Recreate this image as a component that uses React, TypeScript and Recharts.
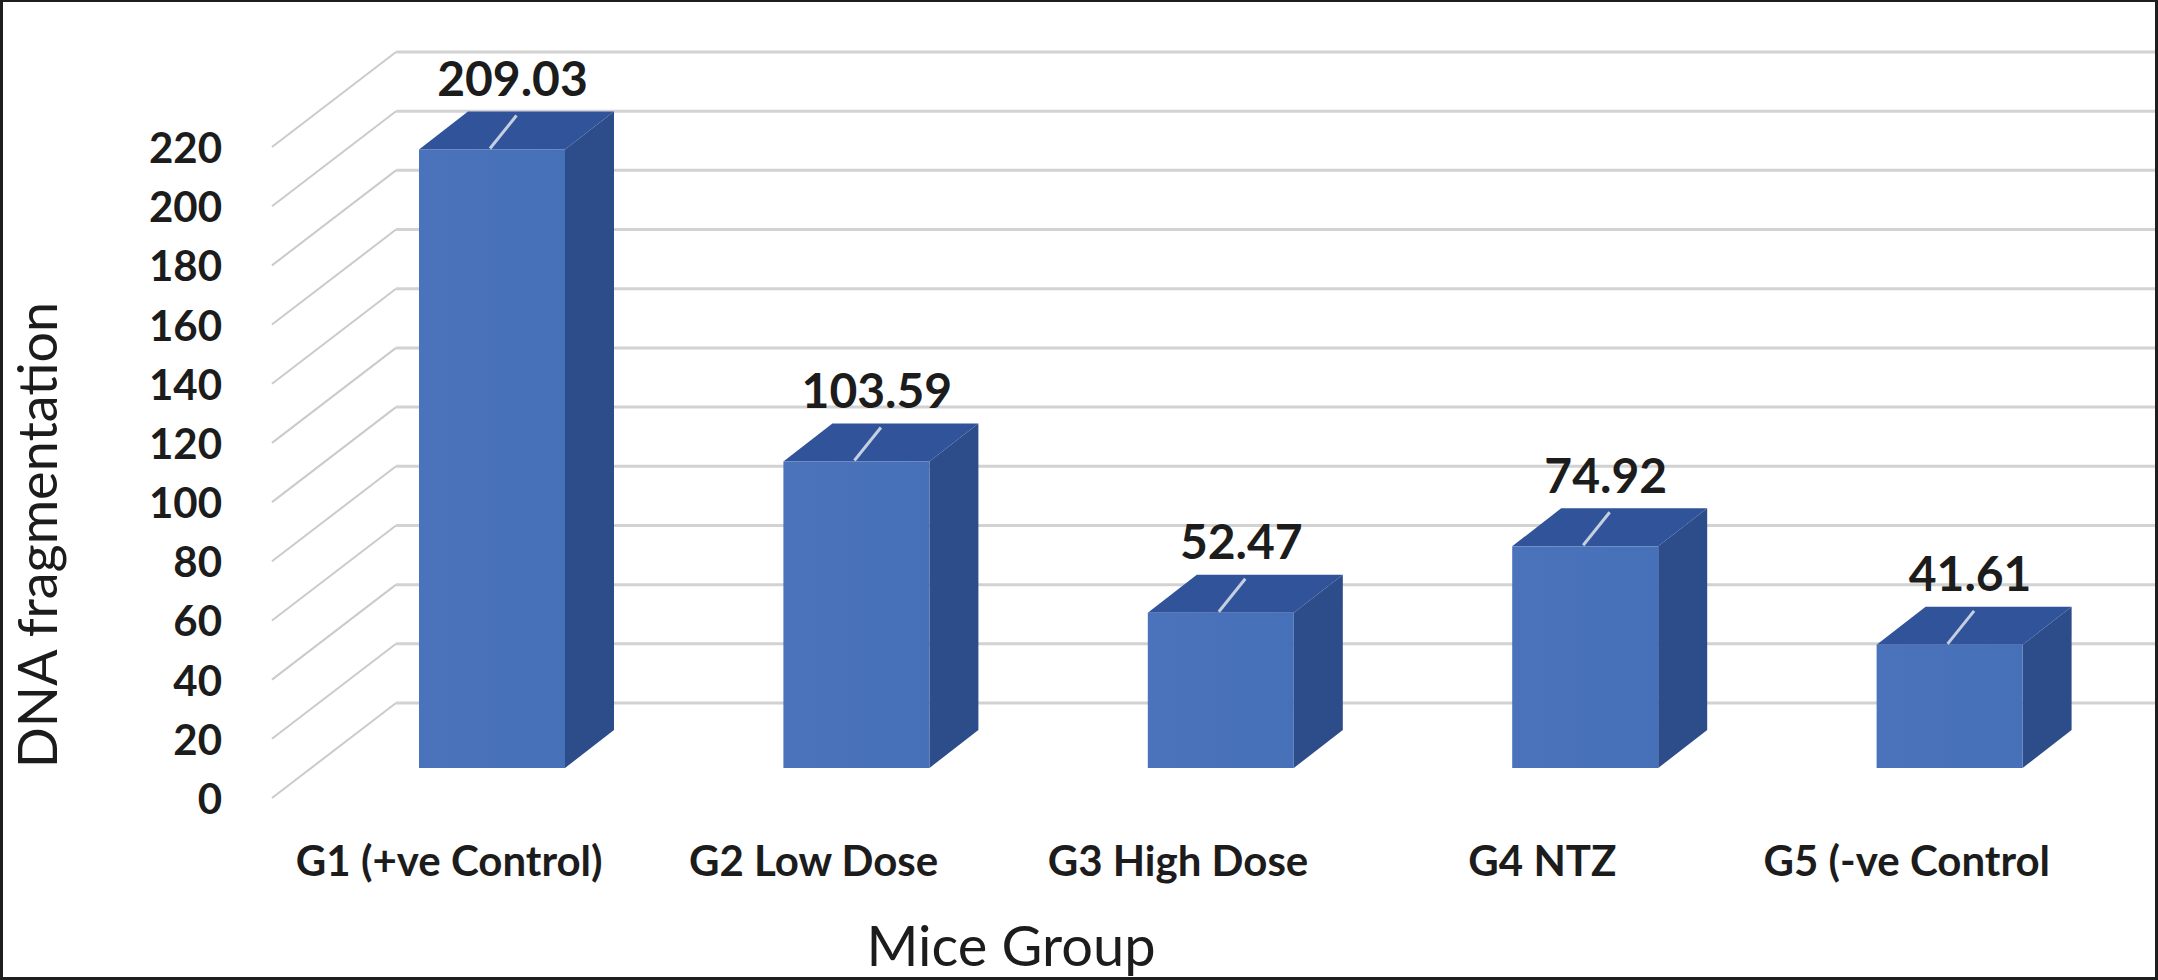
import React from 'react';
import { BarChart, Bar, XAxis, YAxis, CartesianGrid, LabelList } from 'recharts';

const categories = ['G1 (+ve Control)', 'G2 Low Dose', 'G3 High Dose', 'G4 NTZ', 'G5 (-ve Control'];
const values = [209.03, 103.59, 52.47, 74.92, 41.61];
const yTicks = [0, 20, 40, 60, 80, 100, 120, 140, 160, 180, 200, 220];

const data = categories.map((name, i) => ({ name, value: values[i] }));

const W = 2158;
const H = 980;
const FONT = 'Lato, "Open Sans", "DejaVu Sans", sans-serif';
const TEXT = '#1c1c1c';

// 3D geometry
const FLOOR_DX = 126;
const FLOOR_DY = 95;
const FRONT_DX = 40;
const FRONT_DY = 30;
const DEPTH_DX = 49;
const DEPTH_DY = 38;

const GRID = '#d2d2d2';

const GridLine = (props: any) => {
  const { x1, y1, index } = props;
  const bx = x1 + FLOOR_DX;
  const by = y1 - FLOOR_DY;
  return (
    <g key={`g-${index}`}>
      <line x1={x1 + 2} y1={y1} x2={bx} y2={by} stroke="#cbcbcb" strokeWidth={2} />
      <line x1={bx} y1={by} x2={W} y2={by} stroke={GRID} strokeWidth={3} />
    </g>
  );
};

const Bar3D = (props: any) => {
  const { x, y, width, height } = props;
  if (width == null || height == null) return null;
  const fx = x + FRONT_DX;
  const fy = y - FRONT_DY;
  const w = width;
  const h = height;
  const top = `${fx},${fy} ${fx + DEPTH_DX},${fy - DEPTH_DY} ${fx + w + DEPTH_DX},${fy - DEPTH_DY} ${fx + w},${fy}`;
  const side = `${fx + w},${fy} ${fx + w + DEPTH_DX},${fy - DEPTH_DY} ${fx + w + DEPTH_DX},${fy + h - DEPTH_DY} ${fx + w},${fy + h}`;
  return (
    <g>
      <polygon points={side} fill="#2d4c8a" />
      <polygon points={top} fill="#30539a" />
      <rect x={fx} y={fy} width={w} height={h} fill="url(#frontGrad)" />
    </g>
  );
};

const ValueLabel = (props: any) => {
  const vb = props.viewBox && props.viewBox.width != null ? props.viewBox : props;
  const { x, y, width } = vb;
  const { value } = props;
  if (x == null || y == null) return null;
  const fx = x + FRONT_DX;
  const fy = y - FRONT_DY;
  const cx = fx + width / 2;
  const topBack = fy - DEPTH_DY;
  const lx = cx + DEPTH_DX / 2;
  return (
    <g>
      <line x1={cx - 2} y1={fy - 1} x2={lx} y2={topBack + 4} stroke="#c5cfe0" strokeWidth={3} />
      <text
        x={lx - 4}
        y={topBack - 34}
        textAnchor="middle"
        dominantBaseline="central"
        fontFamily={FONT}
        fontWeight={700}
        fontSize={48}
        fill={TEXT}
      >
        {Number(value).toFixed(2)}
      </text>
    </g>
  );
};

const YTick = (props: any) => {
  const { y, payload } = props;
  return (
    <text
      x={222}
      y={y}
      textAnchor="end"
      dominantBaseline="central"
      fontFamily={FONT}
      fontWeight={700}
      fontSize={42}
      fill={TEXT}
    >
      {payload.value}
    </text>
  );
};

const XTick = (props: any) => {
  const { x, payload } = props;
  return (
    <text
      x={x - 3}
      y={860}
      textAnchor="middle"
      dominantBaseline="central"
      fontFamily={FONT}
      fontWeight={700}
      fontSize={42}
      fill={TEXT}
    >
      {payload.value}
    </text>
  );
};

const YTitle = () => (
  <text
    x={57}
    y={535}
    transform="rotate(-90, 57, 535)"
    textAnchor="middle"
    fontFamily={FONT}
    fontSize={54}
    fill={TEXT}
  >
    DNA fragmentation
  </text>
);

const XTitle = () => (
  <text
    x={1011}
    y={966}
    textAnchor="middle"
    fontFamily={FONT}
    fontSize={56}
    fill={TEXT}
  >
    Mice Group
  </text>
);

export default function App() {
  return (
    <div style={{ position: 'fixed', left: 0, top: 0, width: W, height: H, background: '#fff', overflow: 'hidden' }}>
      <BarChart
        width={W}
        height={H}
        data={data}
        margin={{ top: 147, right: 66, bottom: 0, left: 0 }}
      >
        <defs>
          <linearGradient id="frontGrad" x1="0" y1="0" x2="1" y2="0">
            <stop offset="0%" stopColor="#4a73bb" />
            <stop offset="100%" stopColor="#4670b8" />
          </linearGradient>
        </defs>
        <CartesianGrid vertical={false} horizontal={GridLine} />
        <XAxis
          dataKey="name"
          type="category"
          height={182}
          axisLine={false}
          tickLine={false}
          interval={0}
          tick={XTick}
          label={{ content: XTitle }}
        />
        <YAxis
          type="number"
          domain={[0, 220]}
          ticks={yTicks}
          width={270}
          axisLine={false}
          tickLine={false}
          interval={0}
          tick={YTick}
          label={{ content: YTitle }}
        />
        <Bar dataKey="value" barSize={146} shape={Bar3D} isAnimationActive={false}>
          <LabelList dataKey="value" content={ValueLabel} />
        </Bar>
      </BarChart>
      <div
        style={{
          position: 'absolute',
          left: 0,
          top: 0,
          width: W,
          height: H,
          boxSizing: 'border-box',
          borderTop: '2px solid #1e1e1e',
          borderRight: '3px solid #1e1e1e',
          borderBottom: '3px solid #1e1e1e',
          borderLeft: '3px solid #1e1e1e',
          pointerEvents: 'none',
        }}
      />
    </div>
  );
}
